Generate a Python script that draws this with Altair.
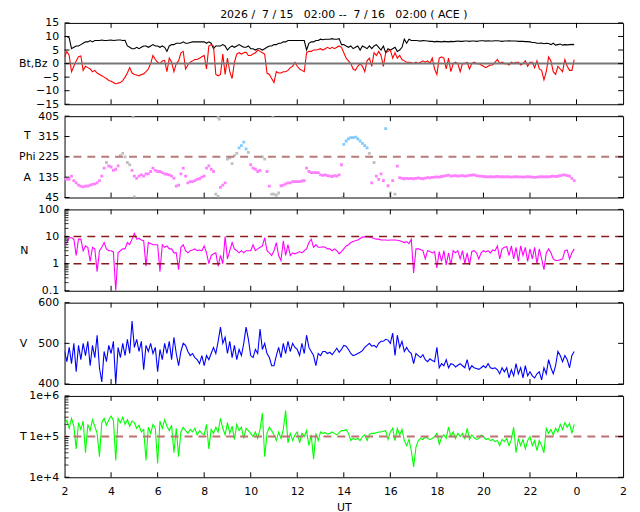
import altair as alt
import pandas as pd

# ---------------- data ----------------
TIME = [round(2 + 0.1 * i, 1) for i in range(220)]  # UT hours, 6-min samples

BT = [
    10.0, 10.0, 9.5, 5.5, 6.0, 6.5, 6.5, 7.0, 7.5, 8.0,
    8.0, 8.5, 8.0, 8.5, 8.5, 8.5, 8.7, 8.5, 8.5, 8.6,
    8.7, 8.5, 8.6, 8.7, 8.7, 8.5, 8.6, 6.5, 6.0, 5.5,
    5.5, 6.0, 5.5, 6.0, 6.5, 6.5, 6.0, 6.5, 7.0, 6.5,
    6.5, 6.0, 6.5, 6.0, 4.5, 6.5, 7.0, 7.0, 7.5, 7.5,
    7.5, 8.0, 7.5, 7.5, 7.8, 8.0, 8.0, 8.0, 8.0, 8.0,
    8.0, 7.5, 8.0, 7.5, 5.5, 6.5, 6.5, 6.5, 7.0, 6.5,
    5.0, 6.0, 6.5, 6.0, 6.5, 7.0, 6.5, 6.0, 6.0, 6.5,
    5.5, 5.5, 5.0, 5.5, 5.5, 5.0, 5.5, 6.0, 6.5, 6.5,
    7.0, 7.0, 7.5, 7.5, 8.0, 8.0, 8.5, 8.5, 8.5, 8.5,
    8.5, 8.5, 8.5, 8.5, 5.0, 7.5, 8.0, 8.0, 8.5, 8.5,
    9.0, 8.8, 9.0, 9.0, 9.0, 9.2, 9.0, 9.0, 9.2, 7.0,
    7.0, 6.5, 6.0, 6.5, 5.5, 6.0, 6.5, 5.0, 6.5, 6.0,
    5.5, 6.5, 5.5, 6.5, 7.0, 6.0, 5.0, 6.5, 4.0, 5.5,
    5.0, 5.5, 6.0, 4.5, 5.0, 6.0, 9.0, 7.5, 9.0, 8.5,
    8.5, 8.5, 8.4, 8.3, 8.5, 8.4, 8.3, 8.2, 8.2, 8.0,
    8.2, 8.1, 8.0, 8.2, 8.1, 8.0, 8.2, 8.1, 8.2, 8.3,
    8.2, 8.2, 8.3, 8.3, 8.2, 8.3, 8.3, 8.2, 8.3, 8.4,
    8.4, 8.3, 8.4, 8.3, 8.3, 8.4, 8.4, 8.3, 8.2, 8.3,
    8.3, 8.4, 8.3, 8.3, 8.3, 8.2, 8.2, 8.2, 8.1, 8.1,
    8.0, 7.8, 7.8, 7.5, 7.5, 7.6, 7.3, 7.5, 7.4, 7.0,
    7.5, 6.8, 7.0, 7.2, 6.8, 7.0, 6.9, 7.0, 7.1, 7.0,
]

BZ = [
    2.4, 4.5, 3.0, -3.0, -1.0, 1.0, 2.5, 2.8, -2.5, -1.0,
    -1.5, -2.0, -3.0, -2.5, -3.5, -4.0, -4.5, -5.0, -5.5, -6.2,
    -6.5, -7.0, -7.5, -7.2, -7.0, -6.3, -5.0, -3.5, -1.5, -3.5,
    -4.0, -4.2, -4.5, -4.0, -3.8, -3.0, -2.0, 0.0, 3.0, 1.5,
    0.5, 0.0, 1.0, 1.2, -3.0, 2.0, 0.5, -3.0, 0.0, 1.0,
    4.0, 4.5, -2.0, -0.5, 0.5, 1.0, 1.5, 1.5, 2.0, 2.5,
    3.0, -2.0, 6.5, 7.0, 6.5, -4.0, -4.5, -4.0, 3.5, -4.0,
    2.0, -3.0, -5.5, 0.5, 3.5, 4.0, 3.5, 4.0, 4.2, 3.0,
    3.0, 3.5, 4.0, 5.0, 4.5, 4.0, 3.5, -3.5, -4.0, -5.5,
    -7.0, -3.0, -3.5, -3.5, -3.0, -3.0, -2.5, -1.5, -1.0, 0.5,
    -1.0, -2.0, -2.5, -3.0, 4.0, 4.5, 4.5, 5.0, 5.0, 5.2,
    5.5, 5.0, 5.5, 6.0, 5.5, 6.0, 5.5, 6.0, 6.5, 6.0,
    4.0, 2.0, 1.0, 0.0, -2.0, -2.5, -1.0, 0.0, -1.0, -3.0,
    1.0, 2.0, -1.0, 4.0, 3.0, 4.5, 3.0, -1.0, 4.0, 4.5,
    5.0, 2.0, 4.0, 2.0, 3.0, 1.5, 1.0, 0.5, 0.5, 0.3,
    0.0, 0.5, 0.0, 0.5, 1.0, 0.5, 1.0, 0.0, 2.0, -2.0,
    -4.0, 2.0, 2.5, 2.0, -2.0, 2.0, -3.0, 0.0, 0.5, 0.0,
    -3.0, 0.0, 0.0, 0.5, -2.0, 0.0, 0.5, 0.0, 0.0, -0.5,
    -1.0, -1.5, -1.0, -0.5, -0.5, 0.5, 1.5, 0.0, 0.5, 0.0,
    0.0, -0.5, 0.5, 0.0, 0.5, 0.5, -0.5, 0.0, 1.0, -1.0,
    0.5, 0.5, -1.5, 1.0, -2.0, -2.5, -6.0, -3.0, 2.5, 1.0,
    -3.0, -4.0, -1.0, -2.0, -3.0, 1.5, -1.0, -2.5, -2.5, 1.5,
]

PHI = [
    128, 125, 125, 140, 120, 110, 100, 95, 92, 95,
    95, 100, 103, 105, 110, 120, 140, 175, 200, 185,
    180, 165, 170, 185, 230, 240, 225, 200, 190, 165,
    140, 130, 140, 145, 140, 150, 150, 160, 175, 165,
    160, 160, 155, 150, 148, 145, 140, 130, 95, 100,
    150, 175, 140, 110, 115, 115, 120, 125, 128, 135,
    140, 175, 185, 170, 160, 60, 50, 90, 100, 110,
    215, 220, 195, 230, 240, 265, 275, 290, 260, 245,
    190, 175, 170, 160, 165, 225, 215, 160, 95, 60,
    60, 55, 65, 97, 100, 105, 110, 110, 115, 115,
    115, 115, 118, 120, 175, 160, 155, 155, 155, 155,
    145, 143, 145, 142, 140, 138, 142, 140, 145, 190,
    280, 295, 305, 310, 310, 312, 305, 295, 285, 275,
    265, 240, 110, 200, 140, 125, 150, 120, 350, 97,
    65, 120, 60, 184, 133, 130, 128, 130, 129, 130,
    128, 130, 132, 130, 128, 131, 133, 132, 134, 135,
    136, 135, 138, 140, 142, 144, 140, 141, 142, 140,
    141, 142, 140, 141, 143, 144, 145, 142, 140, 140,
    138, 137, 136, 137, 136, 137, 138, 136, 137, 136,
    137, 136, 135, 136, 137, 136, 136, 135, 136, 137,
    136, 135, 134, 135, 136, 137, 136, 137, 136, 138,
    140, 138, 139, 142, 144, 145, 142, 140, 130, 120,
]

# m = magenta, g = grey, b = light blue
PHI_CLASS = list(
    "mmmmmmmmmm" "mmmmmmmmgm" "mmmmgggggm" "mmmmmmmmmm" "mmmmmmmmmm"
    "mmmmmmmmmm" "mmmmmggmmm" "gggggbbbbg" "mmmmmggmmg" "gggmmmmmmm"
    "mmmmmmmmmm" "mmmmmmmmmm" "bbbbbbbbbb" "bgmgmmmmbm" "gmgmmmmmmm"
    "mmmmmmmmmm" "mmmmmmmmmm" "mmmmmmmmmm" "mmmmmmmmmm" "mmmmmmmmmm"
    "mmmmmmmmmm" "mmmmmmmmmm"
)
PHI_EXTRA_T = [4.95, 5.0, 8.6, 8.65, 10.95, 13.95, 16.0]
PHI_EXTRA_V = [402, 48, 400, 392, 404, 46, 48]

N = [
    5, 6, 9, 9, 8, 2, 8, 8, 3, 4.5,
    4, 1.2, 4, 3.5, 0.5, 3, 4, 6, 3.5, 3,
    3, 2.7, 0.1, 2.5, 3, 3.5, 3.5, 6, 5, 8,
    13, 8, 8.5, 7.5, 7, 0.8, 6, 5.5, 5, 5,
    5, 0.5, 5, 4, 4.5, 3.5, 3.5, 2.5, 2.5, 0.6,
    4, 5, 3, 2.5, 3, 3.2, 3.5, 3, 3.2, 3,
    4.5, 2.5, 1, 2, 2.3, 2.5, 0.8, 2, 1, 10,
    1.5, 3, 6, 3.5, 3, 2.5, 3, 2.5, 3, 3,
    3, 5, 3, 3.5, 4, 4.5, 9, 3, 2.5, 2,
    3, 6, 2, 1.3, 7, 2, 5, 2, 2.5, 2.3,
    2.5, 2.8, 2.5, 3, 3.5, 6, 8, 4, 5, 4,
    4, 4.2, 4, 3.5, 3.5, 3, 3.5, 3, 2.3, 2.8,
    3.5, 4.5, 5, 6, 6.5, 7, 7.5, 8.5, 9.5, 9.7,
    9.7, 9.5, 9, 8.5, 8, 8, 7.5, 7.5, 7.5, 7.3,
    7.5, 7.5, 7.5, 7.3, 7, 6.5, 6, 6.5, 5.5, 8,
    0.45, 3.5, 3.5, 3.3, 3, 1.5, 3, 2.8, 2.5, 2.8,
    0.7, 2.8, 1.2, 3, 0.9, 2.5, 0.9, 3, 2.5, 3,
    1.5, 3, 1.0, 2.5, 0.9, 2.8, 3, 2.5, 1.5, 2.5,
    3, 2.7, 3, 2.5, 3.2, 3, 4.5, 1.5, 3.5, 4,
    4.2, 2, 4.5, 1.5, 4, 1.2, 4.5, 2, 4, 1.2,
    3.5, 1.5, 4, 1, 3.5, 1.5, 0.6, 2.5, 3.5, 2.5,
    1.5, 1.3, 1.3, 1.4, 1.5, 3, 3.2, 1.5, 2.5, 3.5,
]

V = [
    480, 455, 490, 450, 500, 430, 495, 460, 500, 470,
    505, 445, 495, 465, 520, 440, 405, 480, 455, 495,
    475, 505, 400, 490, 465, 500, 470, 510, 475, 555,
    490, 510, 480, 505, 435, 495, 480, 500, 475, 490,
    430, 485, 460, 500, 475, 505, 460, 515, 475, 445,
    480, 500, 495, 480, 470, 475, 465, 460, 450, 470,
    445, 470, 460, 475, 490, 475, 505, 540, 500, 515,
    475, 505, 465, 495, 460, 485, 470, 500, 540, 510,
    470, 465, 485, 475, 535, 485, 500, 475, 465, 445,
    445, 470, 490, 465, 500, 475, 505, 480, 500, 490,
    485, 470, 500, 475, 520, 490, 480, 470, 445, 475,
    470, 480, 480, 475, 478, 472, 480, 488, 478, 485,
    495, 493, 485, 475, 470, 472, 475, 478, 482, 490,
    495, 500, 493, 495, 490, 500, 505, 505, 510, 508,
    500, 525, 470, 520, 490, 505, 480, 490, 480, 475,
    450, 475, 470, 465, 472, 460, 455, 462, 458, 455,
    490, 440, 450, 445, 460, 440, 450, 448, 442, 446,
    450, 445, 440, 460, 435, 445, 440, 438, 436, 440,
    445, 440, 450, 440, 438, 440, 435, 425, 440, 430,
    440, 415, 435, 420, 450, 425, 440, 415, 445, 420,
    430, 420, 415, 425, 430, 410, 440, 425, 460, 440,
    425, 445, 480, 470, 455, 470, 460, 440, 470, 480,
]

TEMP = [
    2.0e5, 2.5e5, 1.6e5, 2.8e5, 1.8e5, 5.0e4, 2.2e5, 1.5e5, 2.4e5, 4.0e4,
    2.0e5, 1.4e5, 2.6e5, 1.8e5, 1.2e5, 3.2e4, 2.2e5, 2.8e5, 1.9e5, 2.6e5,
    3.2e5, 2.5e5, 2.6e4, 2.8e5, 2.2e5, 3.0e5, 2.0e5, 2.6e5, 1.8e5, 2.4e5,
    2.2e5, 1.6e5, 1.9e5, 1.3e5, 1.5e5, 2.6e4, 1.7e5, 1.2e5, 2.0e5, 1.6e5,
    2.2e4, 2.4e5, 1.6e5, 2.6e5, 1.8e5, 1.4e5, 1.9e5, 4.0e4, 1.6e5, 3.2e4,
    1.3e5, 1.7e5, 1.4e5, 1.2e5, 1.5e5, 1.3e5, 1.6e5, 1.1e5, 1.4e5, 1.2e5,
    1.1e5, 2.0e5, 5.0e4, 1.5e5, 1.2e5, 1.7e5, 1.3e5, 2.8e5, 1.6e5, 1.1e5,
    2.2e5, 1.2e5, 1.8e5, 8.5e4, 2.0e5, 1.4e5, 1.7e5, 9.0e4, 1.6e5, 1.4e5,
    1.2e5, 1.0e5, 1.3e5, 9.0e4, 1.5e5, 3.8e5, 3.2e4, 1.2e5, 1.7e5, 1.4e5,
    1.1e5, 8.0e4, 1.3e5, 9.0e4, 1.5e5, 4.4e5, 7.0e4, 1.2e5, 8.0e4, 1.1e5,
    1.3e5, 7.0e4, 1.2e5, 1.0e5, 1.4e5, 6.0e4, 1.1e5, 2.8e4, 1.2e5, 8.0e4,
    1.3e5, 1.2e5, 1.25e5, 1.15e5, 1.2e5, 1.3e5, 1.2e5, 1.1e5, 1.25e5, 1.4e5,
    1.4e5, 1.5e5, 1.2e5, 8.0e4, 9.0e4, 8.5e4, 9.0e4, 8.0e4, 1.0e5, 1.1e5,
    8.0e4, 1.15e5, 1.2e5, 1.2e5, 1.25e5, 1.3e5, 1.3e5, 1.35e5, 1.4e5, 8.5e4,
    1.3e5, 1.6e5, 8.0e4, 1.6e5, 1.1e5, 1.5e5, 8.0e4, 6.0e4, 8.5e4, 4.5e4,
    1.8e4, 5.5e4, 8.0e4, 9.0e4, 8.5e4, 1.0e5, 9.0e4, 8.5e4, 9.0e4, 1.0e5,
    1.2e5, 6.5e4, 9.5e4, 1.1e5, 9.0e4, 1.7e5, 1.0e5, 1.3e5, 9.0e4, 1.2e5,
    1.0e5, 1.2e5, 9.0e4, 1.6e5, 8.5e4, 1.1e5, 9.5e4, 8.5e4, 9.0e4, 1.1e5,
    1.0e5, 8.5e4, 9.0e4, 8.0e4, 8.5e4, 7.5e4, 8.0e4, 6.0e4, 8.5e4, 7.5e4,
    9.0e4, 6.0e4, 8.5e4, 1.7e5, 4.0e4, 9.0e4, 6.0e4, 8.5e4, 5.0e4, 8.0e4,
    1.0e5, 6.0e4, 8.0e4, 4.5e4, 8.0e4, 6.0e4, 4.0e4, 1.6e5, 1.2e5, 1.5e5,
    1.1e5, 1.6e5, 1.3e5, 2.0e5, 1.5e5, 2.2e5, 1.7e5, 2.1e5, 1.2e5, 2.0e5,
]

X_TICKS = [4, 6, 8, 10, 12, 14, 16, 18, 20, 22, 24]
X_LABEL_TICKS = [2, 4, 6, 8, 10, 12, 14, 16, 18, 20, 22, 24, 26]
B_TICKS = [-15, -10, -5, 0, 5, 10, 15]
PHI_TICKS = [45, 135, 225, 315, 405]
N_TICKS = [0.1, 1, 10, 100]
N_MINOR = [0.2, 0.3, 0.4, 0.5, 0.6, 0.7, 0.8, 0.9, 2, 3, 4, 5, 6, 7, 8, 9,
           20, 30, 40, 50, 60, 70, 80, 90]
V_TICKS = [400, 500, 600]
T_TICKS = [1e4, 1e5, 1e6]
T_MINOR = [2e4, 3e4, 4e4, 5e4, 6e4, 7e4, 8e4, 9e4,
           2e5, 3e5, 4e5, 5e5, 6e5, 7e5, 8e5, 9e5]
B_ZERO = [0]
PHI_REF = [225]
N_REF = [1, 10]
T_REF = [1e5]

TITLE = "2026 /\u00a0 7 / 15 \u00a0\u00a002:00 -- \u00a07 / 16 \u00a0\u00a002:00 ( ACE )"

# ---------------- layout ----------------
W, H = 563, 82
FONT = "DejaVu Sans"
TL = 5  # inward tick length

xs = alt.Scale(domain=[2, 26], nice=False, zero=False)


def x_axis(show):
    if not show:
        return None
    return alt.Axis(values=X_LABEL_TICKS,
                    labelExpr="datum.value >= 24 ? datum.value - 24 : datum.value",
                    title="UT", ticks=False, domain=False, grid=False,
                    labelPadding=8, titlePadding=5, labelFontSize=11,
                    titleFontSize=11, titleFontWeight="normal",
                    labelFlush=False, labelOverlap=False)


def y_axis(values, title, title_x, label_expr=None, line_height=None, title_y=None):
    kw = dict(values=values, title=title, titleAngle=0, titleAlign="center",
              titleBaseline="middle", titleX=title_x,
              titleY=H / 2 if title_y is None else title_y,
              ticks=False, domain=False, grid=False, labelPadding=6,
              labelFontSize=11, titleFontSize=11, titleFontWeight="normal",
              labelFlush=False, labelOverlap=False, labelBound=False)
    if label_expr:
        kw["labelExpr"] = label_expr
    if line_height:
        kw["titleLineHeight"] = line_height
    return alt.Axis(**kw)


def tick_layers(ys, xa, ya, yticks, minor=None):
    X = lambda: alt.X("h:Q", scale=xs, axis=xa)
    Y = lambda: alt.Y("v:Q", scale=ys, axis=ya)
    xt = pd.DataFrame({"h": X_TICKS})
    yt = pd.DataFrame({"v": yticks})
    layers = [
        alt.Chart(xt).mark_rule(color="black", strokeWidth=1).encode(
            x=X(), y=alt.value(H), y2=alt.value(H - TL)),
        alt.Chart(xt).mark_rule(color="black", strokeWidth=1).encode(
            x=X(), y=alt.value(0), y2=alt.value(TL)),
        alt.Chart(yt).mark_rule(color="black", strokeWidth=1).encode(
            y=Y(), x=alt.value(0), x2=alt.value(TL)),
        alt.Chart(yt).mark_rule(color="black", strokeWidth=1).encode(
            y=Y(), x=alt.value(W - TL), x2=alt.value(W)),
    ]
    if minor:
        mt = pd.DataFrame({"v": minor})
        layers.append(alt.Chart(mt).mark_rule(color="#333333", strokeWidth=1).encode(
            y=Y(), x=alt.value(0), x2=alt.value(TL - 1)))
    return layers


def line(df, ys, xa, ya, color, **kw):
    return alt.Chart(df).mark_line(color=color, strokeWidth=1.1, clip=True, **kw).encode(
        x=alt.X("h:Q", scale=xs, axis=xa),
        y=alt.Y("v:Q", scale=ys, axis=ya),
    )


def ref_rule(values, ys, ya, color, width, dash=None):
    mk = dict(color=color, strokeWidth=width)
    if dash:
        mk["strokeDash"] = dash
    return alt.Chart(pd.DataFrame({"v": values})).mark_rule(**mk).encode(
        y=alt.Y("v:Q", scale=ys, axis=ya))


# Panel 1: Bt, Bz
ys1 = alt.Scale(domain=[-15, 15], nice=False, zero=False)
xa1 = x_axis(False)
ya1 = y_axis(B_TICKS, "Bt,Bz", -32)
p1 = alt.layer(
    line(pd.DataFrame({"h": TIME, "v": BT}), ys1, xa1, ya1, "black"),
    line(pd.DataFrame({"h": TIME, "v": BZ}), ys1, xa1, ya1, "#ff0000"),
    ref_rule(B_ZERO, ys1, ya1, "#777777", 2),
    *tick_layers(ys1, xa1, ya1, B_TICKS),
).properties(width=W, height=H, title=alt.TitleParams(
    TITLE, anchor="middle", frame="group", fontSize=11, font=FONT,
    fontWeight="normal", offset=-3, color="black"))

# Panel 2: Phi
ys2 = alt.Scale(domain=[45, 405], nice=False, zero=False)
xa2 = x_axis(False)
ya2 = y_axis(PHI_TICKS, ["T", "Phi", "A"], -38, line_height=21, title_y=H / 2 - 21)
phi_df = pd.DataFrame({"h": TIME + PHI_EXTRA_T,
                       "v": PHI + PHI_EXTRA_V,
                       "c": PHI_CLASS + ["g"] * len(PHI_EXTRA_T)})
p2 = alt.layer(
    alt.Chart(phi_df).mark_square(size=8, opacity=1, clip=True).encode(
        x=alt.X("h:Q", scale=xs, axis=xa2),
        y=alt.Y("v:Q", scale=ys2, axis=ya2),
        color=alt.Color("c:N", legend=None, scale=alt.Scale(
            domain=["m", "g", "b"], range=["#ff80ff", "#c0c0c0", "#80ccff"])),
    ),
    ref_rule(PHI_REF, ys2, ya2, "#b97a7a", 2, [8, 6]),
    *tick_layers(ys2, xa2, ya2, PHI_TICKS),
).properties(width=W, height=H)

# Panel 3: N
ys3 = alt.Scale(type="log", domain=[0.1, 100], nice=False, clamp=True)
xa3 = x_axis(False)
ya3 = y_axis(N_TICKS, "N", -41,
             label_expr="datum.value < 0.5 ? '0.1' : format(datum.value, 'd')")
p3 = alt.layer(
    line(pd.DataFrame({"h": TIME, "v": N}), ys3, xa3, ya3, "#ff00ff"),
    ref_rule(N_REF, ys3, ya3, "#8b1a1a", 1.5, [8, 6]),
    *tick_layers(ys3, xa3, ya3, N_TICKS, minor=N_MINOR),
).properties(width=W, height=H)

# Panel 4: V
ys4 = alt.Scale(domain=[400, 600], nice=False, zero=False)
xa4 = x_axis(False)
ya4 = y_axis(V_TICKS, "V", -42)
p4 = alt.layer(
    line(pd.DataFrame({"h": TIME, "v": V}), ys4, xa4, ya4, "#0000ff"),
    *tick_layers(ys4, xa4, ya4, V_TICKS),
).properties(width=W, height=H)

# Panel 5: T
ys5 = alt.Scale(type="log", domain=[1e4, 1e6], nice=False, clamp=True)
xa5 = x_axis(True)
ya5 = y_axis(T_TICKS, "T", -42,
             label_expr="datum.value > 500000 ? '1e+6' : datum.value > 50000 ? '1e+5' : '1e+4'")
p5 = alt.layer(
    line(pd.DataFrame({"h": TIME, "v": TEMP}), ys5, xa5, ya5, "#00ff00"),
    ref_rule(T_REF, ys5, ya5, "#c07070", 2, [8, 6]),
    *tick_layers(ys5, xa5, ya5, T_TICKS, minor=T_MINOR),
).properties(width=W, height=H)

chart = alt.vconcat(p1, p2, p3, p4, p5, spacing=12, bounds="flush").properties(
    padding={"left": 10, "top": -2, "right": 5, "bottom": 0}
).configure(font=FONT).configure_view(
    stroke="black", strokeWidth=1
).configure_axis(labelColor="black", titleColor="black", labelFont=FONT, titleFont=FONT)

chart.save("out.html", embed_options={"renderer": "svg", "actions": False})
